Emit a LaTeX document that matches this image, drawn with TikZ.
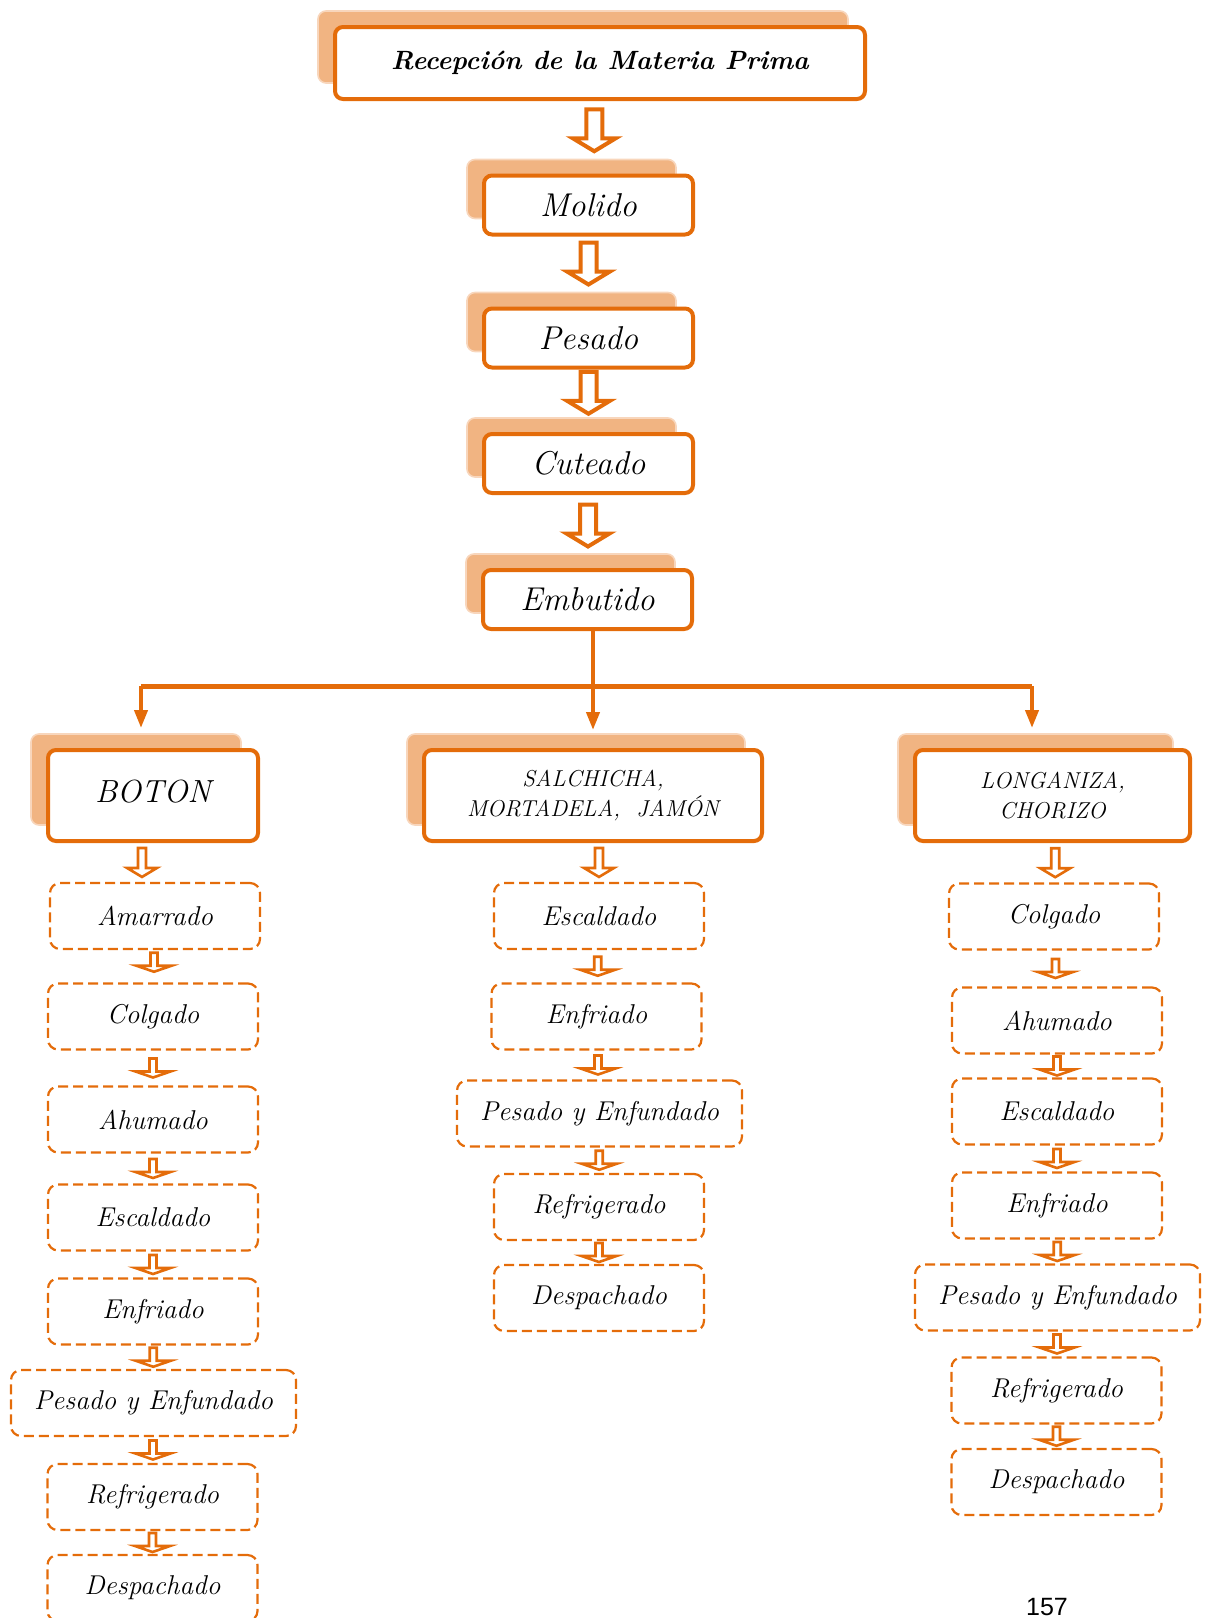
\documentclass[tikz,border=0pt]{standalone}
\usepackage{fontspec}
\usepackage{tikz}
\usetikzlibrary{arrows.meta, calc, shadows}
\newfontfamily\pagefont{Liberation Sans}
\definecolor{myorange}{RGB}{228,108,10}
\definecolor{myshade}{RGB}{241,180,130}
\definecolor{myedge}{RGB}{248,214,188}
% hollow block arrow: [options] length, shaft width, head width, head length
\newcommand{\hollowarrow}[5][]{%
  \draw[hollow,#1] (-#3/2,-#2/2) -- (#3/2,-#2/2) -- (#3/2,#2/2-#5) -- (#4/2,#2/2-#5)
    -- (0,#2/2) -- (-#4/2,#2/2-#5) -- (-#3/2,#2/2-#5) -- cycle;}
\tikzset{
  mainbox/.style={rectangle, draw=myorange, fill=white, line width=2pt,
    rounded corners=4pt, align=center, inner sep=2pt,
    font=\fontsize{16.5}{19}\selectfont\itshape,
    drop shadow={shadow xshift=-8.5pt, shadow yshift=8pt, fill=myshade,
      draw=myedge, line width=0.8pt, opacity=1}},
  chainbox/.style={mainbox, minimum width=104.5pt, minimum height=29.5pt},
  kindbox/.style={mainbox, minimum height=45.5pt,
    font=\fontsize{11.5}{15}\selectfont\itshape},
  dashbox/.style={rectangle, draw=myorange, line width=1.1pt,
    dash pattern=on 5pt off 2.5pt, rounded corners=5pt,
    minimum width=105pt, minimum height=33pt, align=center, inner sep=2pt,
    font=\fontsize{13.6}{15}\selectfont\itshape},
  widebox/.style={dashbox, minimum width=142.5pt},
  hollow/.style={draw=myorange, fill=white, line width=1.3pt, line join=miter},
  branch/.style={myorange, line width=2pt},
  branchtip/.style={-{Triangle[length=9pt,width=6.5pt]}, myorange, line width=2pt},
  pics/bigarrow/.style={code={\hollowarrow[line width=2pt]{42}{16}{43}{13}}},
  pics/midarrow/.style={code={\hollowarrow{29}{8}{30}{9}}},
  pics/smallarrow/.style={code={\hollowarrow{19}{7}{35}{6}}}
}
\begin{document}
\begin{tikzpicture}[x=0.5pt, y=-0.5pt]
  \useasboundingbox (0,0) rectangle (1210,1618);

  % main line
  \node[mainbox, minimum width=265pt, minimum height=36pt,
    font=\fontsize{13.2}{16}\selectfont\bfseries\itshape] (recep) at (600,63) {Recepción de la Materia Prima};
  \node[chainbox] (molido) at (588.5,205) {Molido};
  \node[chainbox] (pesado) at (588.5,338) {Pesado};
  \node[chainbox] (cuteado) at (588.5,463.5) {Cuteado};
  \node[chainbox] (embutido) at (587.5,599.5) {Embutido};

  \pic at ($(recep.south)!0.5!(molido.north)+(0,-7)$) {bigarrow};
  \pic at ($(molido.south)!0.5!(pesado.north)+(0,-8)$) {bigarrow};
  \pic at ($(pesado.south)!0.5!(cuteado.north)+(0,-8)$) {bigarrow};
  \pic at ($(cuteado.south)!0.5!(embutido.north)+(0,-6)$) {bigarrow};

  % products
  \node[kindbox, minimum width=105pt, font=\fontsize{16}{18}\selectfont\itshape] (boton) at (153,795.5) {\raisebox{4pt}{BOTON}};
  \node[kindbox, minimum width=169pt] (salchicha) at (593,795.5) {SALCHICHA,\\MORTADELA,~~JAMÓN};
  \node[kindbox, minimum width=137.5pt] (longaniza) at (1052.5,795.5) {LONGANIZA,\\CHORIZO};

  \coordinate (barl) at (141,686);
  \coordinate (barr) at (1032,686);
  \draw[branch, line width=2.5pt] (barl) -- (barr);
  \draw[branchtip] (embutido.south -| salchicha.north) -- (salchicha.north) [shorten >=9pt];
  \draw[branchtip, shorten >=10pt] (barl) -- (barl |- boton.north);
  \draw[branchtip, shorten >=10pt] (barr) -- (barr |- longaniza.north);

  % BOTON
  \node[dashbox] (b1) at (155,916) {Amarrado};
  \node[dashbox] (b2) at (153,1016.5) {Colgado};
  \node[dashbox] (b3) at (153,1119.5) {Ahumado};
  \node[dashbox] (b4) at (153,1217.5) {Escaldado};
  \node[dashbox] (b5) at (153,1311.5) {Enfriado};
  \node[widebox] (b6) at (153.5,1403) {Pesado y Enfundado};
  \node[dashbox] (b7) at (152.5,1497) {Refrigerado};
  \node[dashbox] (b8) at (152.5,1588) {Despachado};

  \pic at ($(boton.south)!0.5!(b1.north)+(-12,0)$) {midarrow};
  \pic at ($(b1.south)!0.5!(b2.north)+(0,-4)$) {smallarrow};
  \pic at ($(b2.south)!0.5!(b3.north)$) {smallarrow};
  \pic at ($(b3.south)!0.5!(b4.north)$) {smallarrow};
  \pic at ($(b4.south)!0.5!(b5.north)$) {smallarrow};
  \pic at ($(b5.south)!0.5!(b6.north)$) {smallarrow};
  \pic at ($(b6.south)!0.5!(b7.north)$) {smallarrow};
  \pic at ($(b7.south)!0.5!(b8.north)$) {smallarrow};

  % SALCHICHA, MORTADELA, JAMON
  \node[dashbox] (s1) at (599,916) {Escaldado};
  \node[dashbox] (s2) at (596.5,1016.5) {Enfriado};
  \node[widebox] (s3) at (599.5,1113.5) {Pesado y Enfundado};
  \node[dashbox] (s4) at (599,1207) {Refrigerado};
  \node[dashbox] (s5) at (599,1298) {Despachado};

  \pic at ($(salchicha.south)!0.5!(s1.north)+(3,0)$) {midarrow};
  \pic at ($(s1.south)!0.5!(s2.north)$) {smallarrow};
  \pic at ($(s2.south)!0.5!(s3.north)$) {smallarrow};
  \pic at ($(s3.south)!0.5!(s4.north)$) {smallarrow};
  \pic at ($(s4.south)!0.5!(s5.north)$) {smallarrow};

  % LONGANIZA, CHORIZO
  \node[dashbox] (l1) at (1054,916.5) {Colgado};
  \node[dashbox] (l2) at (1057,1020.5) {Ahumado};
  \node[dashbox] (l3) at (1057,1111.5) {Escaldado};
  \node[dashbox] (l4) at (1057,1205.5) {Enfriado};
  \node[widebox] (l5) at (1057.5,1297.5) {Pesado y Enfundado};
  \node[dashbox] (l6) at (1056.5,1390.5) {Refrigerado};
  \node[dashbox] (l7) at (1056.5,1482) {Despachado};

  \pic at ($(longaniza.south)!0.5!(l1.north)+(2,0)$) {midarrow};
  \pic at ($(l1.south)!0.5!(l2.north)$) {smallarrow};
  \pic at ($(l2.south)!0.5!(l3.north)$) {smallarrow};
  \pic at ($(l3.south)!0.5!(l4.north)$) {smallarrow};
  \pic at ($(l4.south)!0.5!(l5.north)$) {smallarrow};
  \pic at ($(l5.south)!0.5!(l6.north)$) {smallarrow};
  \pic at ($(l6.south)!0.5!(l7.north)$) {smallarrow};

  \node[font=\pagefont\fontsize{12.5}{14}\selectfont] (pnum) at (1047,1607) {157};
\end{tikzpicture}
\end{document}
